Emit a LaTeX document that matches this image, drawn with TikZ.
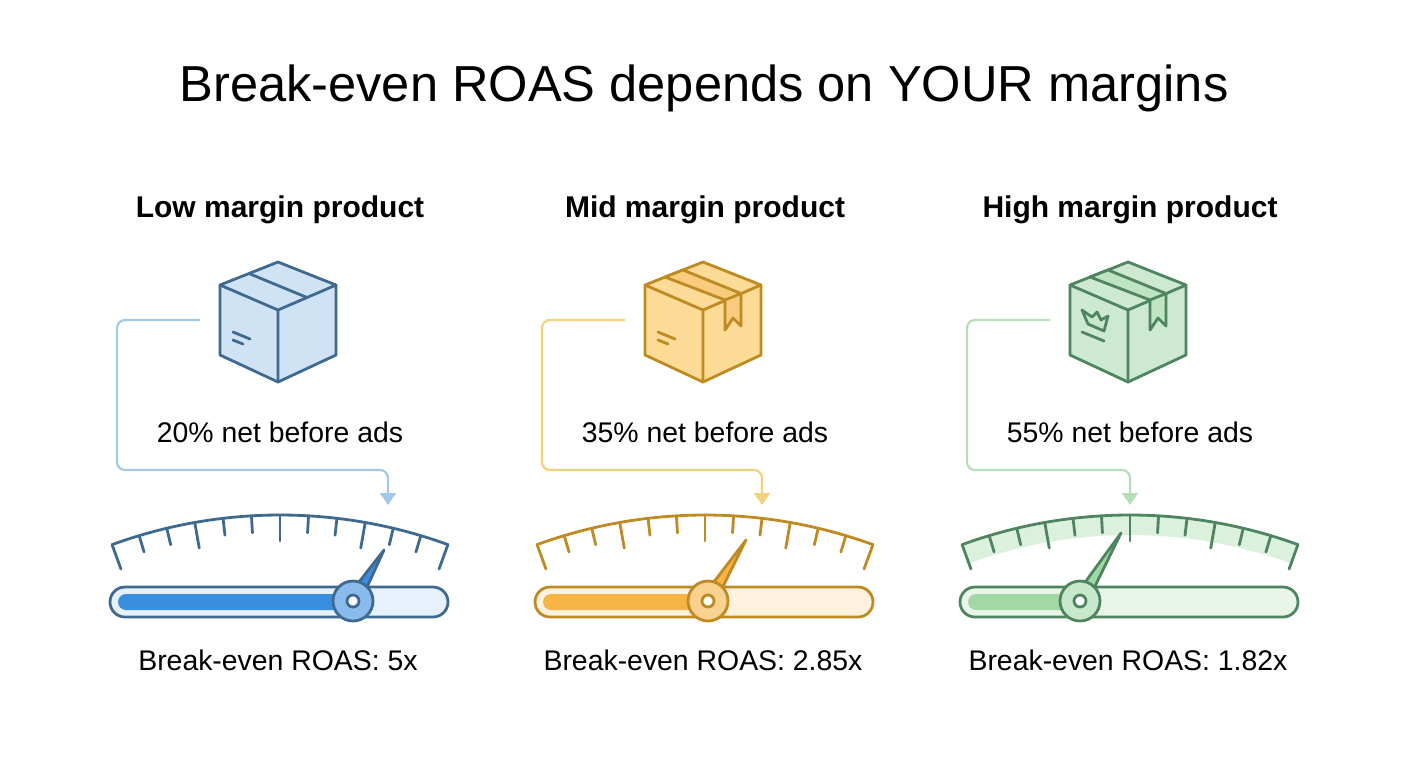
\documentclass[tikz,border=0pt]{standalone}
\usepackage{fontspec}
\setmainfont{Liberation Sans}
\usetikzlibrary{arrows.meta}
\definecolor{lowD}{HTML}{3F6A90}\definecolor{lowF}{HTML}{CFE3F5}\definecolor{lowB}{HTML}{3A8EE0}
\definecolor{lowL}{HTML}{E7F1FB}\definecolor{lowC}{HTML}{A3C8E8}
\definecolor{midD}{HTML}{BF8A22}\definecolor{midF}{HTML}{FBDB95}\definecolor{midB}{HTML}{F6B444}
\definecolor{midL}{HTML}{FDF2DE}\definecolor{midC}{HTML}{F2D27C}
\definecolor{highD}{HTML}{4E8560}\definecolor{highF}{HTML}{CDE9D0}\definecolor{highB}{HTML}{A2D8A6}
\definecolor{highL}{HTML}{E8F5E8}\definecolor{highC}{HTML}{B6DEB9}
\tikzset{
	heading/.style={font=\bfseries\fontsize{15}{18}\selectfont},
	label/.style={font=\fontsize{14.2}{17}\selectfont},
	outline/.style={line width=1.4pt,line join=round,line cap=round},
	link/.style={line width=1.1pt,rounded corners=4pt,-{Triangle[length=6pt,width=8pt]}}
}
\begin{document}
\begin{tikzpicture}[x=0.5pt,y=-0.5pt]
	\useasboundingbox[fill=white] (0,0) rectangle (1408,768);
	\node[font=\fontsize{25.3}{30}\selectfont] (title) at (704,88) {Break-even ROAS depends on YOUR margins};
	\foreach \cx/\col/\name/\pct/\roas/\arrx/\kx/\tx/\ty in {
		280/low/Low/20/5/388/353/384/550,
		705/mid/Mid/35/2.85/762/708/746/540,
		1130/high/High/55/1.82/1130/1080/1121/533}{
		\node[heading] (\col-head) at (\cx,210) {\name\ margin product};
		% box icon
		\begin{scope}[shift={(\cx-2,318)}]
			\draw[outline,draw=\col D,fill=\col F] (0,-56) -- (-58,-33) -- (-58,37) -- (0,64) -- (58,37) -- (58,-33) -- cycle;
			\draw[outline,draw=\col D] (-58,-33) -- (0,-8) -- (58,-33) (0,-8) -- (0,64);
			\ifnum\cx=280
				\draw[outline,draw=\col D] (-29,-44.5) -- (29,-20.5);
				\draw[outline,draw=\col D] (-45,14) -- (-28,21) (-45,22) -- (-35,26);
			\else
				\draw[outline,draw=\col D,fill=\col B!70] (-38,-41) -- (-20,-48) -- (38,-24.5) -- (38,8) -- (30,0) -- (22,12) -- (22,-18) -- cycle;
				\draw[outline,draw=\col D] (22,-18) -- (38,-24.5);
			\fi
			\ifnum\cx=280\else\ifnum\cx=705
				\draw[outline,draw=\col D] (-45,14) -- (-28,21) (-45,22) -- (-35,26);
			\else
				\draw[outline,draw=\col D,fill=\col B!60] (-46,-8) -- (-40,6) -- (-24,13) -- (-20,-2) -- (-27,2) -- (-31,-6) -- (-36,-1) -- cycle;
				\draw[outline,draw=\col D] (-46,14) -- (-24,23);
			\fi\fi
		\end{scope}
		\coordinate (\col-start) at (\cx-80,320);
		\coordinate (\col-end) at (\arrx,505);
		\draw[link,draw=\col C] (\col-start) -| (\cx-163,470) -| (\col-end);
		\node[label] (\col-pct) at (\cx,432) {\pct\% net before ads};
		% gauge
		\ifnum\cx=1130
			\fill[\col F!70] ({\cx+491*cos(-110)},{1006+491*sin(-110)}) arc[start angle=-110,end angle=-70,radius=491]
				-- ({\cx+471*cos(-70)},{1006+471*sin(-70)}) arc[start angle=-70,end angle=-110,radius=471] -- cycle;
		\fi
		\draw[outline,draw=\col D] ({\cx+491*cos(-110)},{1006+491*sin(-110)}) arc[start angle=-110,end angle=-70,radius=491];
		\foreach \i in {0,...,12}{
			\pgfmathsetmacro\a{-110+\i*40/12}
			\pgfmathsetmacro\len{mod(\i,3)==0 ? 26 : 17}
			\draw[outline,draw=\col D] ({\cx+491*cos(\a)},{1006+491*sin(\a)}) -- ({\cx+(491-\len)*cos(\a)},{1006+(491-\len)*sin(\a)});
		}
		\draw[outline,draw=\col D,fill=\col L,rounded corners=7.5pt] (\cx-170,587) rectangle (\cx+168,617);
		\fill[\col B,rounded corners=4pt] (\cx-162,594) rectangle (\kx,610);
		\coordinate (\col-tip) at (\tx,\ty);
		\draw[outline,draw=\col D,fill=\col B] (\kx+6,604.6) -- (\col-tip) -- (\kx-6,597.4) -- cycle;
		\node[circle,outline,draw=\col D,fill=\col B!60,minimum size=20pt,inner sep=0] (\col-knob) at (\kx,601) {};
		\node[circle,outline,draw=\col D,fill=white,minimum size=6pt,inner sep=0] at (\col-knob) {};
		\node[label] (\col-roas) at (\cx-2,660) {Break-even ROAS: \roas x};
	}
\end{tikzpicture}
\end{document}
